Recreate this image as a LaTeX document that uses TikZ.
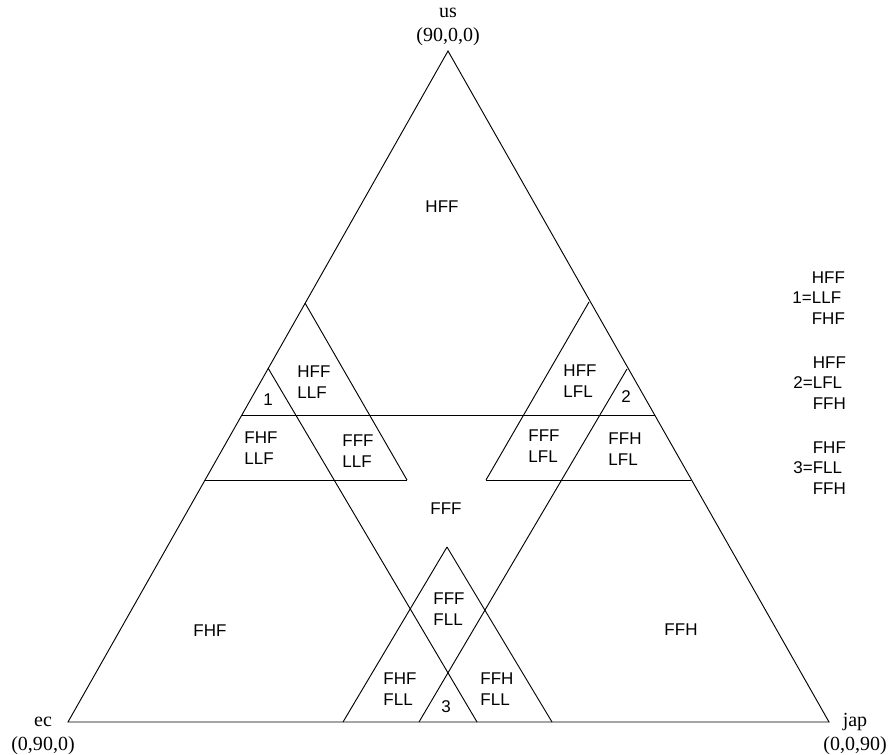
\documentclass[tikz,border=0pt]{standalone}
\usepackage{fontspec}
\setmainfont{Liberation Serif}
\setsansfont{Liberation Sans}

\begin{document}
\begin{tikzpicture}
        [x=0.75pt,y=-0.75pt,line width=0.7pt,
          every node/.style={inner sep=0pt,align=left,font=\sffamily\fontsize{12.75}{15.5}\selectfont},
          corner/.style={anchor=south,align=center,font=\rmfamily\fontsize{15}{18.2}\selectfont},
          pair/.style={anchor=west},
          key/.style={anchor=west}]
        \useasboundingbox (0,0) rectangle (891,755);
        \coordinate (us) at (448,51);
        \coordinate (ec) at (68,722);
        \coordinate (jap) at (829,722);
        \coordinate (l1) at (305,303);
        \coordinate (l2) at (268,368);
        \coordinate (l3) at (242,415);
        \coordinate (l4) at (205,480);
        \coordinate (r1) at (589,302);
        \coordinate (r2) at (627,369);
        \coordinate (r3) at (655,415);
        \coordinate (r4) at (691,480);
        \coordinate (m1) at (407,480);
        \coordinate (m2) at (486,480);
        \coordinate (t) at (447,547);
        \coordinate (f1) at (343,722);
        \coordinate (f2) at (419,722);
        \coordinate (f3) at (477,722);
        \coordinate (f4) at (552,722);
        \draw (us) -- (ec) -- (jap) -- cycle;
        \foreach \from/\to in {l1/m1,l4/m1,l2/f3,l3/r3,r1/m2,m2/r4,r2/f2,t/f1,t/f4}
        \draw (\from) -- (\to);
        % corners
        \node[corner] (usl) at (448,46) {us\\(90,0,0)};
        \node[corner] (ecl) at (43,755) {ec\\(0,90,0)};
        \node[corner] (japl) at (855,755) {jap\\(0,0,90)};
        % regions
        \node (hff) at (442,207) {HFF};
        \node[pair] (hffllf) at (297,382) {HFF\\LLF};
        \node (one) at (268,400) {1};
        \node[pair] (fhfllf) at (244,448) {FHF\\LLF};
        \node[pair] (fffllf) at (342,451) {FFF\\LLF};
        \node[pair] (hfflfl) at (563,381) {HFF\\LFL};
        \node (two) at (626,397) {2};
        \node[pair] (ffflfl) at (528,446) {FFF\\LFL};
        \node[pair] (ffhlfl) at (608,449) {FFH\\LFL};
        \node (fff) at (446,509) {FFF};
        \node[pair] (ffffll) at (433,609) {FFF\\FLL};
        \node[pair] (fhffll) at (383,689) {FHF\\FLL};
        \node (three) at (446,707) {3};
        \node[pair] (ffhfll) at (480,689) {FFH\\FLL};
        \node (fhf) at (210,631) {FHF};
        \node (ffh) at (681,630) {FFH};
        % key
        \node[key] (key1) at (792,298) {\phantom{1=}HFF\\1=LLF\\\phantom{1=}FHF};
        \node[key] (key2) at (793,383) {\phantom{2=}HFF\\2=LFL\\\phantom{2=}FFH};
        \node[key] (key3) at (793,468) {\phantom{3=}FHF\\3=FLL\\\phantom{3=}FFH};
      \end{tikzpicture}
\end{document}
